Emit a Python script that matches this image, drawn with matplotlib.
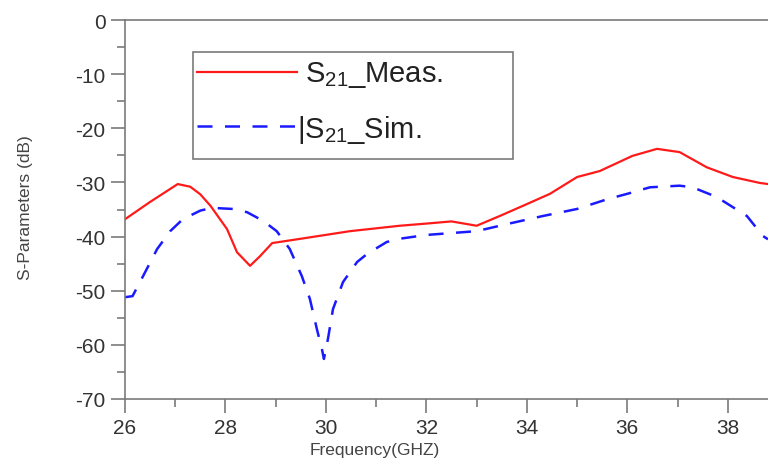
import matplotlib
matplotlib.use("Agg")
import matplotlib.pyplot as plt
from matplotlib.ticker import MultipleLocator
from matplotlib.patches import Rectangle

plt.rcParams['font.family'] = ['Liberation Sans', 'DejaVu Sans']
plt.rcParams['mathtext.default'] = 'regular'

meas_x = [26.0, 26.5, 27.05, 27.3, 27.5, 27.7, 28.03, 28.23, 28.49, 28.69, 28.82, 28.93,
          29.5, 30.48, 31.47, 32.0, 32.5, 33.0, 33.46, 34.0, 34.46, 35.0, 35.45,
          36.1, 36.59, 37.04, 37.58, 38.1, 38.64, 38.8]
meas_y = [-36.8, -33.6, -30.3, -30.8, -32.2, -34.3, -38.6, -42.9, -45.4, -43.6, -42.3, -41.2,
          -40.4, -39.0, -38.0, -37.6, -37.2, -38.0, -36.2, -34.0, -32.1, -29.0, -27.9,
          -25.1, -23.8, -24.4, -27.2, -29.0, -30.1, -30.3]

sim_x = [26.0, 26.15, 26.36, 26.64, 26.9, 27.15, 27.5, 27.73, 28.15, 28.43, 28.75,
         29.02, 29.28, 29.52, 29.68, 29.82, 29.92, 29.96, 30.04, 30.14, 30.34, 30.62,
         30.82, 31.21, 31.47, 32.0, 33.0, 33.6, 34.32, 35.0, 35.6, 36.0, 36.45, 37.04,
         37.3, 37.78, 38.38, 38.7, 38.8]
sim_y = [-51.2, -51.0, -47.3, -42.3, -39.0, -36.8, -35.2, -34.7, -34.9, -35.5, -37.1,
         -39.0, -42.3, -47.3, -51.5, -57.1, -60.8, -62.6, -58.9, -53.4, -48.4, -44.7,
         -43.2, -41.0, -40.4, -39.7, -39.0, -37.7, -36.2, -34.9, -33.1, -32.1, -30.9, -30.6,
         -30.9, -32.7, -36.2, -39.9, -40.5]

x_ticks = [26, 28, 30, 32, 34, 36, 38]
y_ticks = [0, -10, -20, -30, -40, -50, -60, -70]
label_meas = "S$_{21}$_Meas."
label_sim = "|S$_{21}$_Sim."

fig = plt.figure(figsize=(7.68, 4.64), dpi=100)
ax = fig.add_axes([125/768, 64/464, 643/768, 379/464])

red = '#ff1a1a'
blue = '#1a1aff'
ax.plot(meas_x, meas_y, color=red, lw=1.6)
ax.plot(sim_x, sim_y, color=blue, lw=1.8, dashes=(6, 5))

ax.set_xlim(26, 38.8)
ax.set_ylim(-70, 0)
ax.set_xticks(x_ticks)
ax.set_yticks(y_ticks)
ax.set_yticklabels([str(v) for v in y_ticks])
ax.xaxis.set_minor_locator(MultipleLocator(1))
ax.yaxis.set_minor_locator(MultipleLocator(5))

spine_c = '#7a7a7a'
for s in ['left', 'bottom', 'top']:
    ax.spines[s].set_color(spine_c)
    ax.spines[s].set_linewidth(1.2)
ax.spines['right'].set_visible(False)

ax.tick_params(which='major', direction='out', length=10, width=1.2, color=spine_c,
               labelsize=15, labelcolor='#333333', pad=4)
ax.tick_params(which='minor', direction='out', length=6, width=1.2, color=spine_c)
ax.tick_params(axis='x', top=False, which='both')

ax.set_ylabel("S-Parameters (dB)", fontsize=12.5, color='#444444')
ax.yaxis.set_label_coords(-0.143, 0.507)
ax.set_xlabel("Frequency(GHZ)", fontsize=12.5, color='#444444')
ax.xaxis.set_label_coords((375 - 125) / 643, -0.113)

# legend drawn manually
ax.add_patch(Rectangle((0.106, 0.633), 0.497, 0.283, transform=ax.transAxes,
                       fill=False, edgecolor='#7a7a7a', lw=1.2, zorder=5))
ax.plot([0.112, 0.268], [0.863, 0.863], transform=ax.transAxes, color=red, lw=1.6)
ax.plot([0.112, 0.268], [0.720, 0.720], transform=ax.transAxes, color=blue, lw=1.8,
        dashes=(6, 5))
ax.text(0.280, 0.857, label_meas, transform=ax.transAxes, fontsize=21,
        color='#222222', va='center', ha='left')
ax.text(0.268, 0.712, label_sim, transform=ax.transAxes, fontsize=21,
        color='#222222', va='center', ha='left')

fig.savefig("out.png", dpi=100, facecolor='white')
